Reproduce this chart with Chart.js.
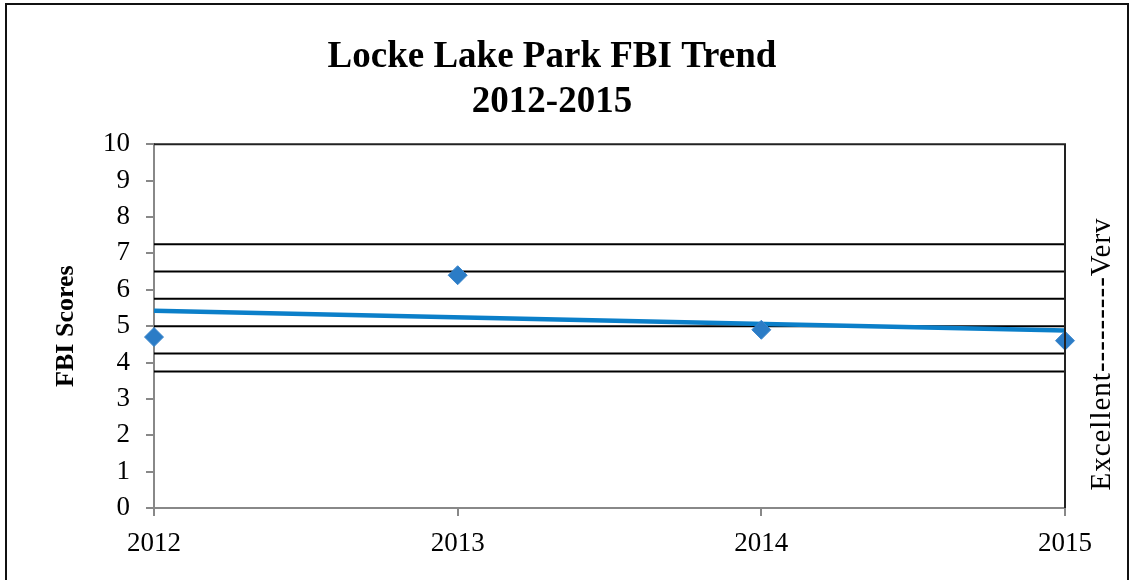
<!DOCTYPE html>
<html>
<head>
<meta charset="utf-8">
<title>Locke Lake Park FBI Trend</title>
<script src="https://cdn.jsdelivr.net/npm/chart.js@4.4.1/dist/chart.umd.min.js"></script>
<style>
  html, body { margin:0; padding:0; background:#fff; overflow:hidden; }
  #wrap { position:relative; width:1130px; height:580px; }
</style>
</head>
<body>
<div id="wrap"><canvas id="fbi" width="1130" height="580"></canvas></div>
<script>
// ----- data -----
const years = [2012, 2013, 2014, 2015];
const fbiScores = [4.7, 6.4, 4.9, 4.6];
const trendEnds = [5.42, 4.88];          // linear trend at first / last year
const bandLevels = [3.75, 4.25, 5.0, 5.75, 6.5, 7.25];
const yTicks = [0,1,2,3,4,5,6,7,8,9,10];
const titleLines = ['Locke Lake Park FBI Trend', '2012-2015'];
const sideLabel = 'Excellent---------Verv';

const SERIF = '"Liberation Serif", "DejaVu Serif", serif';

// outer frame, top/right edges of the plot box, rotated side label
const framePlugin = {
  id: 'frame',
  afterDraw(chart){
    const {ctx, chartArea:a} = chart;
    ctx.save();
    ctx.strokeStyle = '#111'; ctx.lineWidth = 2;
    ctx.strokeRect(6, 4, 1122, 620);
    ctx.strokeStyle = '#222'; ctx.lineWidth = 2;
    ctx.beginPath();
    ctx.moveTo(a.left, a.top); ctx.lineTo(a.right, a.top); ctx.lineTo(a.right, a.bottom);
    ctx.stroke();
    ctx.translate(1102, 354);
    ctx.rotate(-Math.PI/2);
    ctx.fillStyle = '#000';
    ctx.font = '29px ' + SERIF;
    if ('letterSpacing' in ctx) ctx.letterSpacing = '1px';
    ctx.textAlign = 'center'; ctx.textBaseline = 'middle';
    ctx.fillText(sideLabel, 0, 0);
    ctx.restore();
  }
};

const bandSets = bandLevels.map(v => ({
  type:'line',
  data: [{x: years[0], y: v}, {x: years[years.length-1], y: v}],
  borderColor:'#000', borderWidth:2, pointRadius:0, order:3
}));

new Chart(document.getElementById('fbi'), {
  type:'line',
  data:{
    datasets:[
      { label:'FBI', data: years.map((y,i)=>({x:y, y:fbiScores[i]})),
        showLine:false, pointStyle:'rectRot', pointRadius:9.5, pointHoverRadius:9.5,
        backgroundColor:'#2b7cc6', borderColor:'#3a86cc', borderWidth:1, order:1, clip:false },
      { label:'Trend', data:[{x:years[0], y:trendEnds[0]}, {x:years[years.length-1], y:trendEnds[1]}],
        borderColor:'#0b7fc9', borderWidth:4.5, pointRadius:0, order:2, clip:false },
      ...bandSets
    ]
  },
  options:{
    responsive:false, animation:false,
    layout:{ padding:{ top:12, left:0, right:26, bottom:0 } },
    plugins:{
      legend:{ display:false }, tooltip:{ enabled:false },
      title:{ display:true, text:titleLines, color:'#000',
        font:{ family:SERIF, size:37, weight:'bold', lineHeight:1.22 },
        padding:{ top:23, bottom:19 } }
    },
    scales:{
      x:{ type:'linear', min:years[0], max:years[years.length-1],
        afterBuildTicks(s){ s.ticks = years.map(v=>({value:v})); },
        ticks:{ color:'#000', font:{ family:SERIF, size:27 }, padding:12, callback:v=>String(v) },
        grid:{ drawOnChartArea:false, color:'#888', tickLength:8, lineWidth:2 },
        border:{ color:'#888', width:2 },
        afterFit(s){ s.height = 72; }
      },
      y:{ min:0, max:10,
        afterBuildTicks(s){ s.ticks = yTicks.map(v=>({value:v})); },
        ticks:{ color:'#000', font:{ family:SERIF, size:27 }, padding:16 },
        grid:{ drawOnChartArea:false, color:'#888', tickLength:8, lineWidth:2 },
        border:{ color:'#888', width:2 },
        title:{ display:true, text:'FBI Scores', color:'#000',
          font:{ family:SERIF, size:26, weight:'bold' }, padding:{ top:51, bottom:0 } },
        afterFit(s){ s.width = 154; }
      },
      // empty right-hand strip that holds the rotated side label
      side:{ position:'right', display:true,
        ticks:{ display:false }, grid:{ display:false }, border:{ display:false },
        afterFit(s){ s.width = 39; }
      }
    }
  },
  plugins:[framePlugin]
});
</script>
</body>
</html>
